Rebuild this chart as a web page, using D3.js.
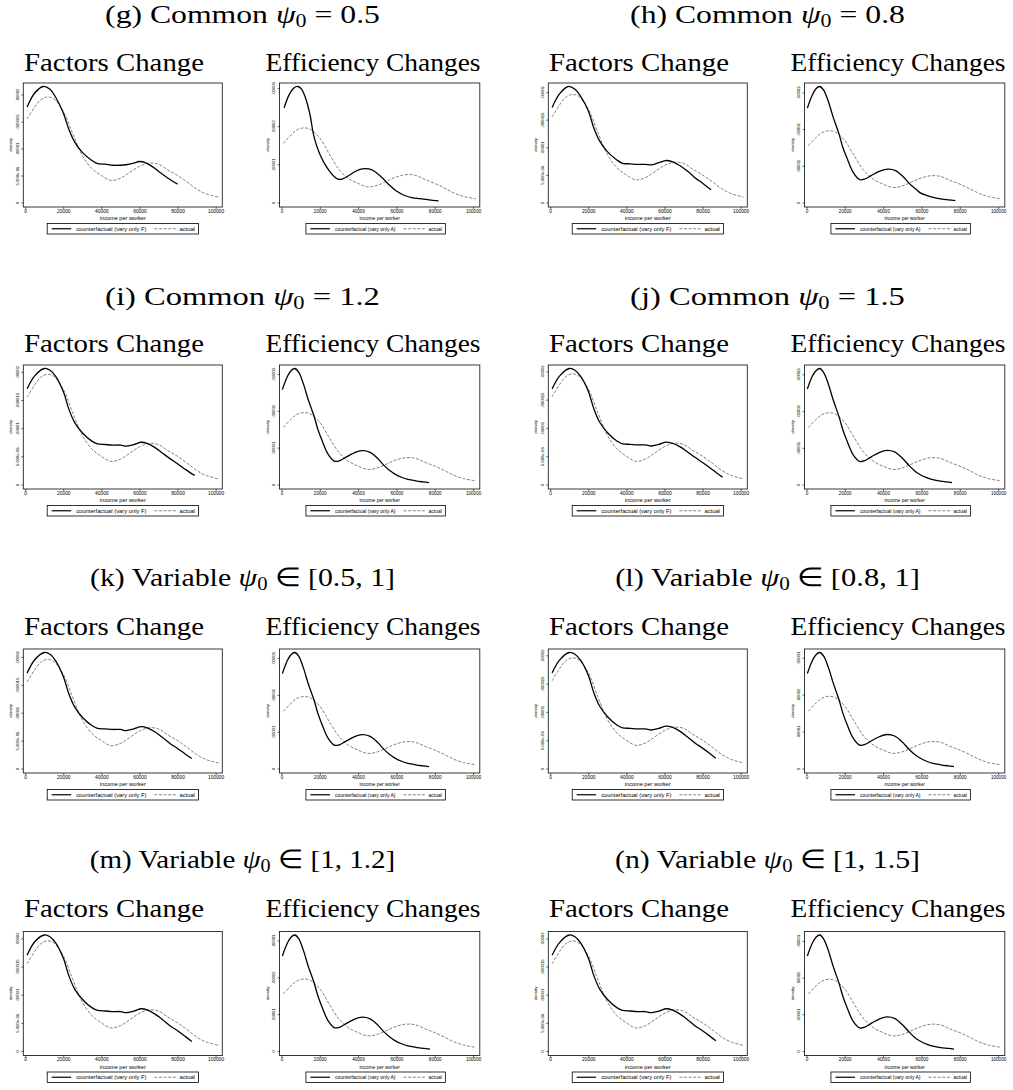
<!DOCTYPE html>
<html>
<head>
<meta charset="utf-8">
<script src="https://cdn.jsdelivr.net/npm/d3@7"></script>
<style>
  body { margin: 0; background: #fff; }
</style>
</head>
<body>
<svg id="fig" width="1013" height="1090"></svg>
<script>
// densities are in units of 1e-5, incomes in dollars per worker

// panel titles
const panelIds = ['(g)', '(h)', '(i)', '(j)', '(k)', '(l)', '(m)', '(n)'];
const panelKinds = ['Common', 'Common', 'Common', 'Common', 'Variable', 'Variable', 'Variable', 'Variable'];
const panelConds = ['= 0.5', '= 0.8', '= 1.2', '= 1.5', '\u2208 [0.5, 1]', '\u2208 [0.8, 1]', '\u2208 [1, 1.2]', '\u2208 [1, 1.5]'];

const subTitles = ['Factors Change', 'Efficiency Changes'];
const legendLabels = ['counterfactual (vary only F)', 'counterfactual (vary only A)'];

// axes
const xTicks = [0, 20000, 40000, 60000, 80000, 100000];
const facYTicks = [0, 0.5, 1, 1.5, 2];
const facYLabels = ['0', '5.000e-06', '.00001', '.000015', '.00002'];
const effYTicks = [0, 1, 2, 3];
const effYLabels = ['0', '.00001', '.00002', '.00003'];

// actual income distribution (same in every plot)
const actual = [[1000,1.55],[5000,1.77],[8000,1.9],[11500,1.955],[15000,1.92],[20000,1.69],[25000,1.27],[30000,0.87],
  [35000,0.63],[40000,0.5],[45000,0.41],[50000,0.45],[55000,0.56],[60000,0.67],[65000,0.73],[70000,0.71],
  [75000,0.6],[80000,0.5],[85000,0.38],[90000,0.25],[95000,0.16],[101500,0.1]];

// counterfactual, vary only factors
const facG = [[1000,1.77],[5000,2.03],[9500,2.15],[13000,2.1],[16000,1.95],[20000,1.66],[23000,1.35],[26000,1.12],[30000,0.93],
  [35000,0.78],[38000,0.72],[42000,0.71],[46000,0.69],[50000,0.69],[53000,0.7],[57000,0.73],[60000,0.76],[63000,0.74],
  [67000,0.66],[71000,0.55],[75000,0.45],[80000,0.34]];
const facH = [[1000,1.72],[5000,1.97],[9500,2.1],[13000,2.05],[16000,1.92],[20000,1.66],[23000,1.34],[26000,1.11],[30000,0.92],
  [35000,0.77],[38000,0.71],[42000,0.7],[46000,0.69],[50000,0.69],[53000,0.68],[57000,0.72],[61000,0.76],[64000,0.74],
  [68000,0.67],[72000,0.57],[76000,0.45],[80000,0.35],[84500,0.23]];
const facI = [[1000,1.7],[5000,1.93],[10000,2.06],[13000,2.03],[16000,1.92],[20000,1.65],[23000,1.33],[26000,1.1],[30000,0.92],
  [35000,0.77],[38000,0.72],[42000,0.71],[46000,0.7],[50000,0.7],[53000,0.68],[57000,0.71],[61000,0.75],[64000,0.73],
  [68000,0.66],[72000,0.56],[76000,0.46],[80000,0.37],[84500,0.26],[89000,0.16]];
const facJ = [[1000,1.69],[5000,1.92],[10000,2.05],[13000,2.02],[16000,1.91],[20000,1.65],[23000,1.33],[26000,1.1],[30000,0.92],
  [35000,0.77],[38000,0.72],[42000,0.71],[46000,0.7],[50000,0.7],[53000,0.68],[57000,0.71],[61000,0.75],[64000,0.73],
  [68000,0.67],[72000,0.58],[76000,0.48],[80000,0.39],[84500,0.28],[88000,0.19],[90500,0.13]];
const facK = [[1000,1.71],[5000,1.95],[10000,2.08],[13000,2.05],[16000,1.93],[20000,1.65],[23000,1.33],[26000,1.1],[30000,0.92],
  [35000,0.77],[38000,0.72],[42000,0.71],[46000,0.7],[50000,0.7],[53000,0.68],[57000,0.71],[61000,0.75],[64000,0.73],
  [68000,0.66],[72000,0.56],[76000,0.45],[80000,0.36],[84000,0.26],[87500,0.18]];
const facL = [[1000,1.69],[5000,1.92],[10000,2.05],[13000,2.02],[16000,1.91],[20000,1.65],[23000,1.33],[26000,1.1],[30000,0.92],
  [35000,0.77],[38000,0.72],[42000,0.71],[46000,0.7],[50000,0.7],[53000,0.68],[57000,0.71],[61000,0.75],[64000,0.73],
  [68000,0.66],[72000,0.56],[76000,0.45],[80000,0.36],[84000,0.26],[87000,0.18]];
const facM = [[1000,1.7],[5000,1.94],[10000,2.06],[13000,2.03],[16000,1.92],[20000,1.65],[23000,1.33],[26000,1.1],[30000,0.92],
  [35000,0.77],[38000,0.72],[42000,0.71],[46000,0.7],[50000,0.7],[53000,0.68],[57000,0.71],[61000,0.75],[64000,0.73],
  [68000,0.66],[72000,0.56],[76000,0.45],[80000,0.36],[84000,0.26],[87500,0.17]];
const facN = [[1000,1.7],[5000,1.93],[10000,2.06],[13000,2.03],[16000,1.92],[20000,1.65],[23000,1.33],[26000,1.1],[30000,0.92],
  [35000,0.77],[38000,0.72],[42000,0.71],[46000,0.7],[50000,0.7],[53000,0.68],[57000,0.71],[61000,0.75],[64000,0.73],
  [68000,0.66],[72000,0.56],[76000,0.45],[80000,0.36],[84000,0.26],[87000,0.18]];

// counterfactual, vary only efficiency
const effG = [[1400,2.48],[4000,2.82],[6500,3.0],[8600,3.04],[10500,2.97],[12500,2.75],[15000,2.28],[16500,1.84],[18000,1.55],
  [20000,1.27],[22500,1.02],[25000,0.83],[27500,0.68],[29500,0.61],[32000,0.62],[35000,0.7],[38000,0.8],[41000,0.87],
  [44000,0.89],[47000,0.86],[50000,0.76],[53000,0.63],[56000,0.47],[60000,0.3],[64000,0.19],[68000,0.13],[72000,0.1],
  [77000,0.07],[82000,0.04]];
const effH = [[500,2.57],[3000,2.92],[5000,3.1],[6900,3.16],[9000,3.06],[11300,2.77],[14000,2.32],[17000,1.87],[19000,1.5],
  [21000,1.23],[24400,0.82],[27800,0.62],[30500,0.64],[34000,0.74],[38000,0.85],[42700,0.91],[46500,0.87],[50500,0.7],
  [54000,0.5],[57000,0.37],[59200,0.27],[63000,0.19],[66100,0.14],[70000,0.1],[74000,0.07],[77700,0.05]];
const effI = [[500,2.58],[3000,2.92],[5000,3.09],[7000,3.15],[9000,3.05],[11300,2.76],[14000,2.3],[17000,1.86],[19000,1.5],
  [21000,1.22],[24400,0.82],[27800,0.63],[30500,0.65],[34000,0.75],[38000,0.86],[42000,0.92],[46000,0.88],[50000,0.72],
  [53500,0.52],[56500,0.38],[59000,0.29],[63000,0.19],[66000,0.14],[70000,0.1],[74000,0.07],[77000,0.05]];
const effJ = [[500,2.6],[3000,2.94],[5000,3.1],[7000,3.16],[9000,3.05],[11300,2.76],[14000,2.3],[17000,1.85],[19000,1.49],
  [21000,1.21],[24400,0.81],[27800,0.63],[30500,0.65],[34000,0.76],[38000,0.87],[42000,0.93],[46000,0.89],[50000,0.72],
  [53500,0.52],[56500,0.37],[59000,0.28],[63000,0.18],[66000,0.13],[70000,0.09],[73000,0.07],[76000,0.05]];
const effK = [[500,2.58],[3000,2.92],[5000,3.09],[7000,3.15],[9000,3.05],[11300,2.76],[14000,2.3],[17000,1.86],[19000,1.5],
  [21000,1.22],[24400,0.82],[27800,0.63],[30500,0.65],[34000,0.75],[38000,0.86],[42000,0.92],[46000,0.88],[50000,0.72],
  [53500,0.52],[56500,0.38],[59000,0.29],[63000,0.19],[66000,0.14],[70000,0.1],[74000,0.07],[77000,0.05]];
const effL = [[500,2.57],[3000,2.91],[5000,3.08],[7000,3.14],[9000,3.04],[11300,2.76],[14000,2.31],[17000,1.86],[19000,1.5],
  [21000,1.22],[24400,0.82],[27800,0.63],[30500,0.65],[34000,0.75],[38000,0.86],[42000,0.92],[46000,0.88],[50000,0.72],
  [53500,0.52],[56500,0.38],[59000,0.29],[63000,0.19],[66000,0.14],[70000,0.1],[74000,0.07],[77000,0.05]];
const effM = [[500,2.58],[3000,2.92],[5000,3.09],[7000,3.15],[9000,3.05],[11300,2.76],[14000,2.3],[17000,1.86],[19000,1.5],
  [21000,1.22],[24400,0.82],[27800,0.63],[30500,0.65],[34000,0.75],[38000,0.86],[42000,0.92],[46000,0.88],[50000,0.72],
  [53500,0.52],[56500,0.38],[59000,0.29],[63000,0.19],[66000,0.14],[70000,0.1],[74000,0.07],[77500,0.05]];
const effN = [[500,2.59],[3000,2.93],[5000,3.1],[7000,3.16],[9000,3.05],[11300,2.76],[14000,2.3],[17000,1.85],[19000,1.49],
  [21000,1.21],[24400,0.81],[27800,0.63],[30500,0.65],[34000,0.76],[38000,0.87],[42000,0.93],[46000,0.89],[50000,0.72],
  [53500,0.52],[56500,0.37],[59000,0.28],[63000,0.18],[66000,0.13],[70000,0.09],[74000,0.07],[77000,0.05]];

const facSeries = [facG, facH, facI, facJ, facK, facL, facM, facN];
const effSeries = [effG, effH, effI, effJ, effK, effL, effM, effN];

// ---- layout ----
const svg = d3.select('#fig');
const colShift = [0, 525];
const rowTops = [83, 365, 649, 931.5];
const titleBase = [23, 305, 586, 868.5];
const subBase = [71, 352, 635, 917.5];
const boxH = 124;
const serif = '"Liberation Serif", "Times New Roman", serif';
const sans = '"Liberation Sans", Arial, Helvetica, sans-serif';

// stretch a text horizontally so it spans the same width as the LaTeX original
function fitText(sel, cx, target) {
  const w = sel.node().getComputedTextLength();
  sel.attr('transform', `translate(${cx},0) scale(${target / w},1)`);
}

function drawLegend(g, cx, yTop, label, fs) {
  const lg = g.append('g');
  let pos = 4.5;
  lg.append('line')
    .attr('x1', pos).attr('x2', pos + 19.5).attr('y1', 5.25).attr('y2', 5.25)
    .attr('stroke', '#000').attr('stroke-width', 1.2);
  pos += 24.5;
  const t1 = lg.append('text')
    .attr('x', pos).attr('y', 5.25 + fs * 0.36)
    .attr('font-family', sans).attr('font-size', fs)
    .text(label);
  pos += t1.node().getComputedTextLength() + 8;
  lg.append('line')
    .attr('x1', pos).attr('x2', pos + 21.5).attr('y1', 5.25).attr('y2', 5.25)
    .attr('stroke', '#666').attr('stroke-width', 0.8).attr('stroke-dasharray', '3,1.6');
  pos += 25;
  const t2 = lg.append('text')
    .attr('x', pos).attr('y', 5.25 + fs * 0.36)
    .attr('font-family', sans).attr('font-size', fs)
    .text('actual');
  pos += t2.node().getComputedTextLength() + 3.5;
  lg.insert('rect', ':first-child')
    .attr('x', 0).attr('y', 0).attr('width', pos).attr('height', 10.5)
    .attr('fill', '#fff').attr('stroke', '#000').attr('stroke-width', 0.8);
  lg.attr('transform', `translate(${cx - pos / 2},${yTop})`);
}

function drawPlot(x0, x1, top, cf, yTicks, yLabels, legendLabel, fonts) {
  const bottom = top + boxH;
  const g = svg.append('g');

  const x = d3.scaleLinear().domain([-1000, 103500]).range([x0, x1]);
  const ymax = d3.max(cf.concat(actual), d => d[1]);
  const y = d3.scaleLinear()
    .domain([0, Math.max(ymax, d3.max(yTicks))])
    .range([bottom - 4.5, top + 3.5]);

  // plot frame
  g.append('rect')
    .attr('x', x0).attr('y', top).attr('width', x1 - x0).attr('height', boxH)
    .attr('fill', '#fff').attr('stroke', '#222').attr('stroke-width', 0.9);

  // x axis
  const gx = g.append('g')
    .attr('transform', `translate(0,${bottom})`)
    .call(d3.axisBottom(x).tickValues(xTicks).tickFormat(d3.format('d')).tickSize(2));
  gx.select('.domain').remove();
  gx.selectAll('line').attr('stroke', '#000').attr('stroke-width', 0.6);
  gx.attr('font-family', sans).attr('font-size', fonts.xtick);
  gx.selectAll('text').attr('y', 5.8).attr('dy', null).attr('fill', '#000');

  g.append('text')
    .attr('x', (x0 + x1) / 2).attr('y', bottom + 13.3)
    .attr('text-anchor', 'middle')
    .attr('font-family', sans).attr('font-size', fonts.xtitle)
    .text('income per worker');

  // y axis, labels rotated as Stata draws them
  const gy = g.append('g')
    .attr('transform', `translate(${x0},0)`)
    .call(d3.axisLeft(y).tickValues(yTicks).tickFormat((d, i) => yLabels[i]).tickSize(2));
  gy.select('.domain').remove();
  gy.selectAll('line').attr('stroke', '#000').attr('stroke-width', 0.6);
  gy.attr('font-family', sans).attr('font-size', 4.2);
  gy.selectAll('text')
    .attr('x', null).attr('dy', null)
    .attr('text-anchor', 'middle').attr('fill', '#000')
    .attr('transform', 'translate(-4.8,0) rotate(-90)');

  g.append('text')
    .attr('transform', `translate(${x0 - 11},${(top + bottom) / 2}) rotate(-90)`)
    .attr('text-anchor', 'middle')
    .attr('font-family', sans).attr('font-size', 4.3)
    .text('density');

  // density curves
  const line = d3.line()
    .x(d => x(d[0]))
    .y(d => y(d[1]))
    .curve(d3.curveCatmullRom.alpha(0.5));

  g.append('path')
    .datum(actual)
    .attr('d', line)
    .attr('fill', 'none')
    .attr('stroke', '#6a6a6a')
    .attr('stroke-width', 0.85)
    .attr('stroke-dasharray', '3,1.6');

  g.append('path')
    .datum(cf)
    .attr('d', line)
    .attr('fill', 'none')
    .attr('stroke', '#000')
    .attr('stroke-width', 1.3)
    .attr('stroke-linejoin', 'round');

  drawLegend(g, fonts.legendCx(x0, x1), bottom + 16.5, legendLabel, fonts.legend);
}

const facFonts = { xtick: 4.9, xtitle: 5.6, legend: 5.8, legendCx: (a, b) => (a + b) / 2 };
const effFonts = { xtick: 4.6, xtitle: 4.9, legend: 5.0, legendCx: (a, b) => (a + b) / 2 - 4 };

panelIds.forEach((id, i) => {
  const row = Math.floor(i / 2);
  const dx = colShift[i % 2];
  const top = rowTops[row];

  // panel title
  const t = svg.append('text')
    .attr('x', 0).attr('y', titleBase[row])
    .attr('text-anchor', 'middle')
    .attr('font-family', serif).attr('font-size', 26);
  t.append('tspan').text(`${id} ${panelKinds[i]} `);
  t.append('tspan').attr('font-style', 'italic').text('\u03c8');
  t.append('tspan').attr('font-size', 18).attr('dy', 4).text('0');
  t.append('tspan').attr('dy', -4).text(` ${panelConds[i]}`);
  fitText(t, 242.5 + dx, panelKinds[i] === 'Common' ? 275 : 306);

  // subplot titles
  const s1 = svg.append('text')
    .attr('x', 0).attr('y', subBase[row])
    .attr('text-anchor', 'middle')
    .attr('font-family', serif).attr('font-size', 26)
    .text(subTitles[0]);
  fitText(s1, 114 + dx, 180);
  const s2 = svg.append('text')
    .attr('x', 0).attr('y', subBase[row])
    .attr('text-anchor', 'middle')
    .attr('font-family', serif).attr('font-size', 26)
    .text(subTitles[1]);
  fitText(s2, 373 + dx, 215);

  drawPlot(23.3 + dx, 222.3 + dx, top, facSeries[i], facYTicks, facYLabels, legendLabels[0], facFonts);
  drawPlot(279.5 + dx, 479.8 + dx, top, effSeries[i], effYTicks, effYLabels, legendLabels[1], effFonts);
});
</script>
</body>
</html>
